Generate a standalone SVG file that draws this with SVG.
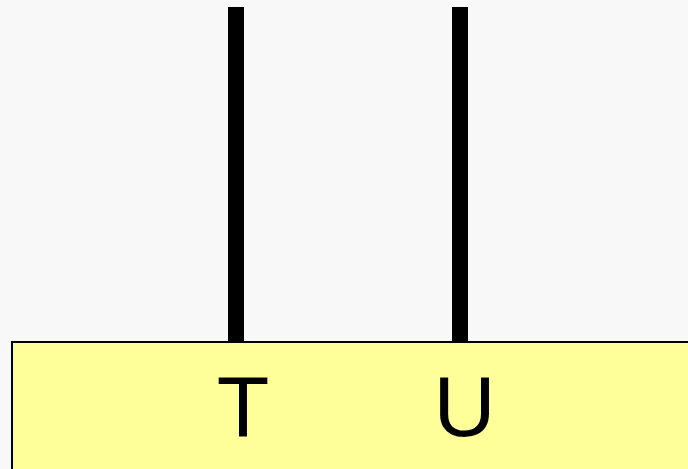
<svg xmlns="http://www.w3.org/2000/svg" width="688" height="469" viewBox="0 0 688 469">
<style>
.wire{stroke:#000;stroke-width:16;fill:none}
.box{fill:#ffff99;stroke:#000;stroke-width:2}
.lbl{font-family:"Liberation Sans",Arial,sans-serif;font-size:86px;fill:#000;text-anchor:middle}
</style>
<rect x="0" y="0" width="688" height="469" fill="#f8f8f8"/>
<g id="connectors">
<line class="wire" x1="236" y1="7" x2="236" y2="342"/>
<line class="wire" x1="460" y1="7" x2="460" y2="342"/>
</g>
<g id="node-box">
<rect class="box" x="12" y="342" width="690" height="140"/>
<text class="lbl" x="243" y="436">T</text>
<text class="lbl" x="464.5" y="436">U</text>
</g>
</svg>
